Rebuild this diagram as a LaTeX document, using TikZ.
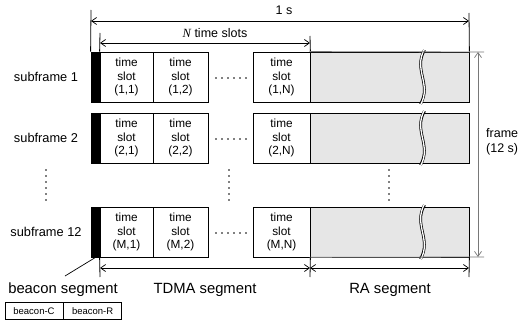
\documentclass[tikz,border=0pt]{standalone}
\usepackage{fontspec}
\setmainfont{Liberation Sans}
\newfontfamily\serifit{Liberation Serif}
\usetikzlibrary{arrows.meta}
\definecolor{rafill}{RGB}{230,230,230}
\definecolor{frgray}{RGB}{120,120,120}
\begin{document}
\begin{tikzpicture}[x=1pt,y=-1pt,
  ln/.style={line width=0.8pt},
  dimline/.style={line width=0.7pt,{Straight Barb[length=5pt,width=7pt]}-{Straight Barb[length=5pt,width=7pt]}},
  slotbox/.style={draw,line width=0.8pt,minimum height=50pt,inner sep=0pt,align=center,font=\fontsize{11.8}{13.6}\selectfont},
  beaconbar/.style={fill=black,draw=black,line width=0.8pt,minimum width=9pt,minimum height=50pt,inner sep=0pt},
  rabox/.style={fill=rafill,draw=black,line width=0.8pt,minimum width=159pt,minimum height=50pt,inner sep=0pt},
  sublabel/.style={font=\fontsize{12.8}{14}\selectfont,inner sep=0pt},
  seglabel/.style={font=\fontsize{14.8}{16}\selectfont,inner sep=0pt},
  toplabel/.style={font=\fontsize{12.5}{14.5}\selectfont,inner sep=0pt},
  smallbox/.style={draw,line width=0.6pt,minimum width=58pt,minimum height=17pt,inner sep=0pt,font=\fontsize{9.5}{10}\selectfont},
  dotmark/.style={fill=black,draw=none}
]
\useasboundingbox (0,0) rectangle (520,329);

\foreach \r/\t/\lab/\idx in {1/52/subframe 1/1, 2/113/subframe 2/2, 3/207/subframe 12/M} {
  \node[beaconbar] (b\r) at (95.5,{\t+25}) {};
  \node[slotbox,minimum width=53pt] (sa\r) at (126.5,{\t+25}) {time\\slot\\(\idx,1)};
  \node[slotbox,minimum width=55pt] (sb\r) at (180.5,{\t+25}) {time\\slot\\(\idx,2)};
  \node[slotbox,minimum width=57pt] (sn\r) at (281.5,{\t+25}) {time\\slot\\(\idx,N)};
  \node[rabox] (ra\r) at (389.5,{\t+25}) {};
  \node[sublabel] (l\r) at (46,{\t+25}) {\lab};
  \draw[line width=2.8pt,black] (424.5,{\t-2}) .. controls (413,{\t+18}) and (432,{\t+32}) .. (420.5,{\t+52});
  \draw[line width=1.3pt,white] (424.5,{\t-3}) .. controls (413,{\t+18}) and (432,{\t+32}) .. (420.5,{\t+53});
  \foreach \k in {0,...,5} {
    \fill[dotmark] ({216+6*\k},{\t+26}) circle (0.9pt);
  }
}

% vertical dots
\foreach \xx in {46,229,389} {
  \foreach \k in {0,...,5} {
    \fill[dotmark] (\xx,{170+6*\k}) circle (0.9pt);
  }
}

% top dimension: 1 s
\coordinate (oneL) at (91,21);
\coordinate (oneR) at (469,21);
\draw[ln] (b1.north west) -- (91,10);
\draw[ln] (ra1.north east) -- (469,13);
\draw[dimline] (oneL) -- (oneR);
\node[toplabel] (onesec) at (284,10) {1 s};

% N time slots
\coordinate (nL) at (100,43);
\coordinate (nR) at (310,43);
\draw[ln] (sa1.north west) -- (100,33);
\draw[ln] (sn1.north east) -- (310,36);
\draw[dimline] (nL) -- (nR);
\node[toplabel] (ntxt) at (215,33) {{\serifit\itshape N} time slots};

% frame
\coordinate (frT) at (478,52);
\coordinate (frB) at (478,257);
\draw[line width=0.8pt,frgray] (ra1.north west) -- (484,52);
\draw[line width=0.8pt,frgray] (ra3.south west) -- (484,257);
\draw[dimline,frgray] (frT) -- (frB);
\node[toplabel,anchor=west,align=left] (frtxt) at (486,142) {frame\\(12 s)};

% bottom dimensions
\draw[ln] (sa3.south west) -- (100,277);
\draw[ln] (sn3.south east) -- (310,277);
\draw[ln] (ra3.south east) -- (469,277);
\coordinate (tdL) at (100,268);
\coordinate (tdR) at (310,268);
\coordinate (raR) at (469,268);
\draw[dimline] (tdL) -- (tdR);
\draw[dimline] (tdR) -- (raR);
\node[seglabel] (bseg) at (63,290) {beacon segment};
\node[seglabel] (tseg) at (205,290) {TDMA segment};
\node[seglabel] (rseg) at (390,290) {RA segment};

% leader
\coordinate (lead) at (65,276);
\draw[line width=0.7pt] (lead) -- (b3.south);

% beacon boxes
\node[smallbox] (bc) at (34,311) {beacon-C};
\node[smallbox,anchor=west] (br) at (bc.east) {beacon-R};
\end{tikzpicture}
\end{document}
